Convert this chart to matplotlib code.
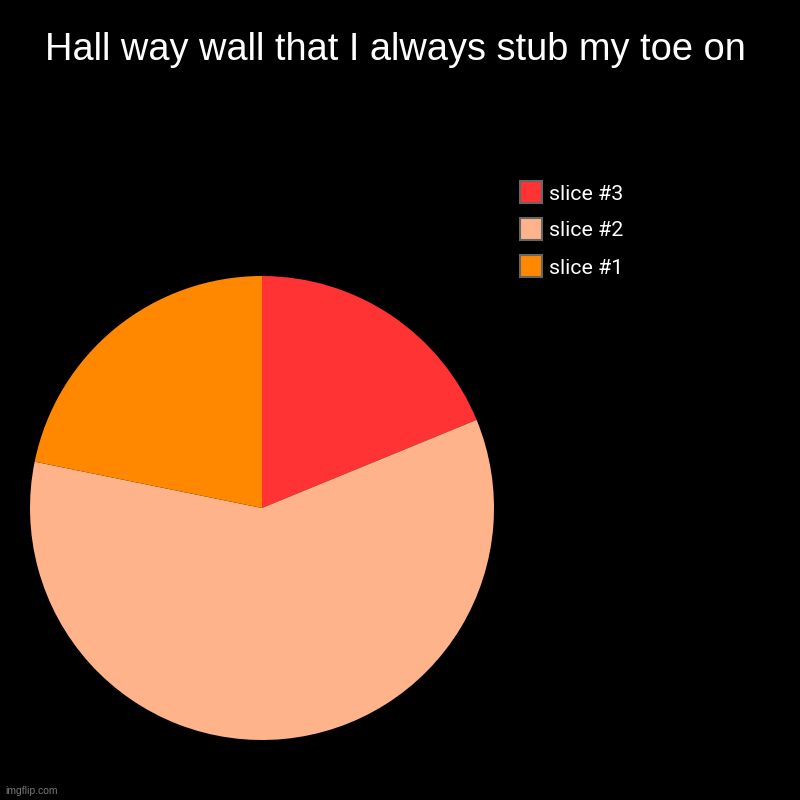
import matplotlib.pyplot as plt
from matplotlib.patches import Rectangle

plt.rcParams['font.family'] = ['Liberation Sans', 'DejaVu Sans']

labels = ['slice #3', 'slice #2', 'slice #1']
values = [18.8, 59.4, 21.8]
colors = ['#ff3333', '#ffb38a', '#ff8800']

W = H = 800
fig = plt.figure(figsize=(8, 8), dpi=100, facecolor='black')
ax = fig.add_axes([0.0375, 0.075, 0.58, 0.58])
ax.set_facecolor('black')
ax.pie(values, colors=colors, startangle=90, counterclock=False,
       wedgeprops=dict(linewidth=0))
ax.set_xlim(-1, 1)
ax.set_ylim(-1, 1)
ax.set_aspect('equal')
ax.axis('off')

fig.text(0.494, 0.9375, 'Hall way wall that I always stub my toe on',
         color='white', fontsize=27.4, ha='center', va='center')

# legend, drawn by hand to match the box layout
box = 22
for i, (lab, c) in enumerate(zip(labels, colors)):
    yc = 192 + i * 37
    fig.patches.append(Rectangle((520 / W, 1 - (yc + box / 2) / H),
                                 box / W, box / H, transform=fig.transFigure,
                                 facecolor=c, edgecolor='#666666',
                                 linewidth=1.5))
    fig.text(549 / W, 1 - (yc + 2) / H, lab, color='white', fontsize=15.4,
             family=['Roboto', 'DejaVu Sans'], ha='left', va='center')

fig.text(0.006, 0.011, 'imgflip.com', color='#777777', fontsize=7.5,
         ha='left', va='center')

fig.savefig('out.png', facecolor='black')
